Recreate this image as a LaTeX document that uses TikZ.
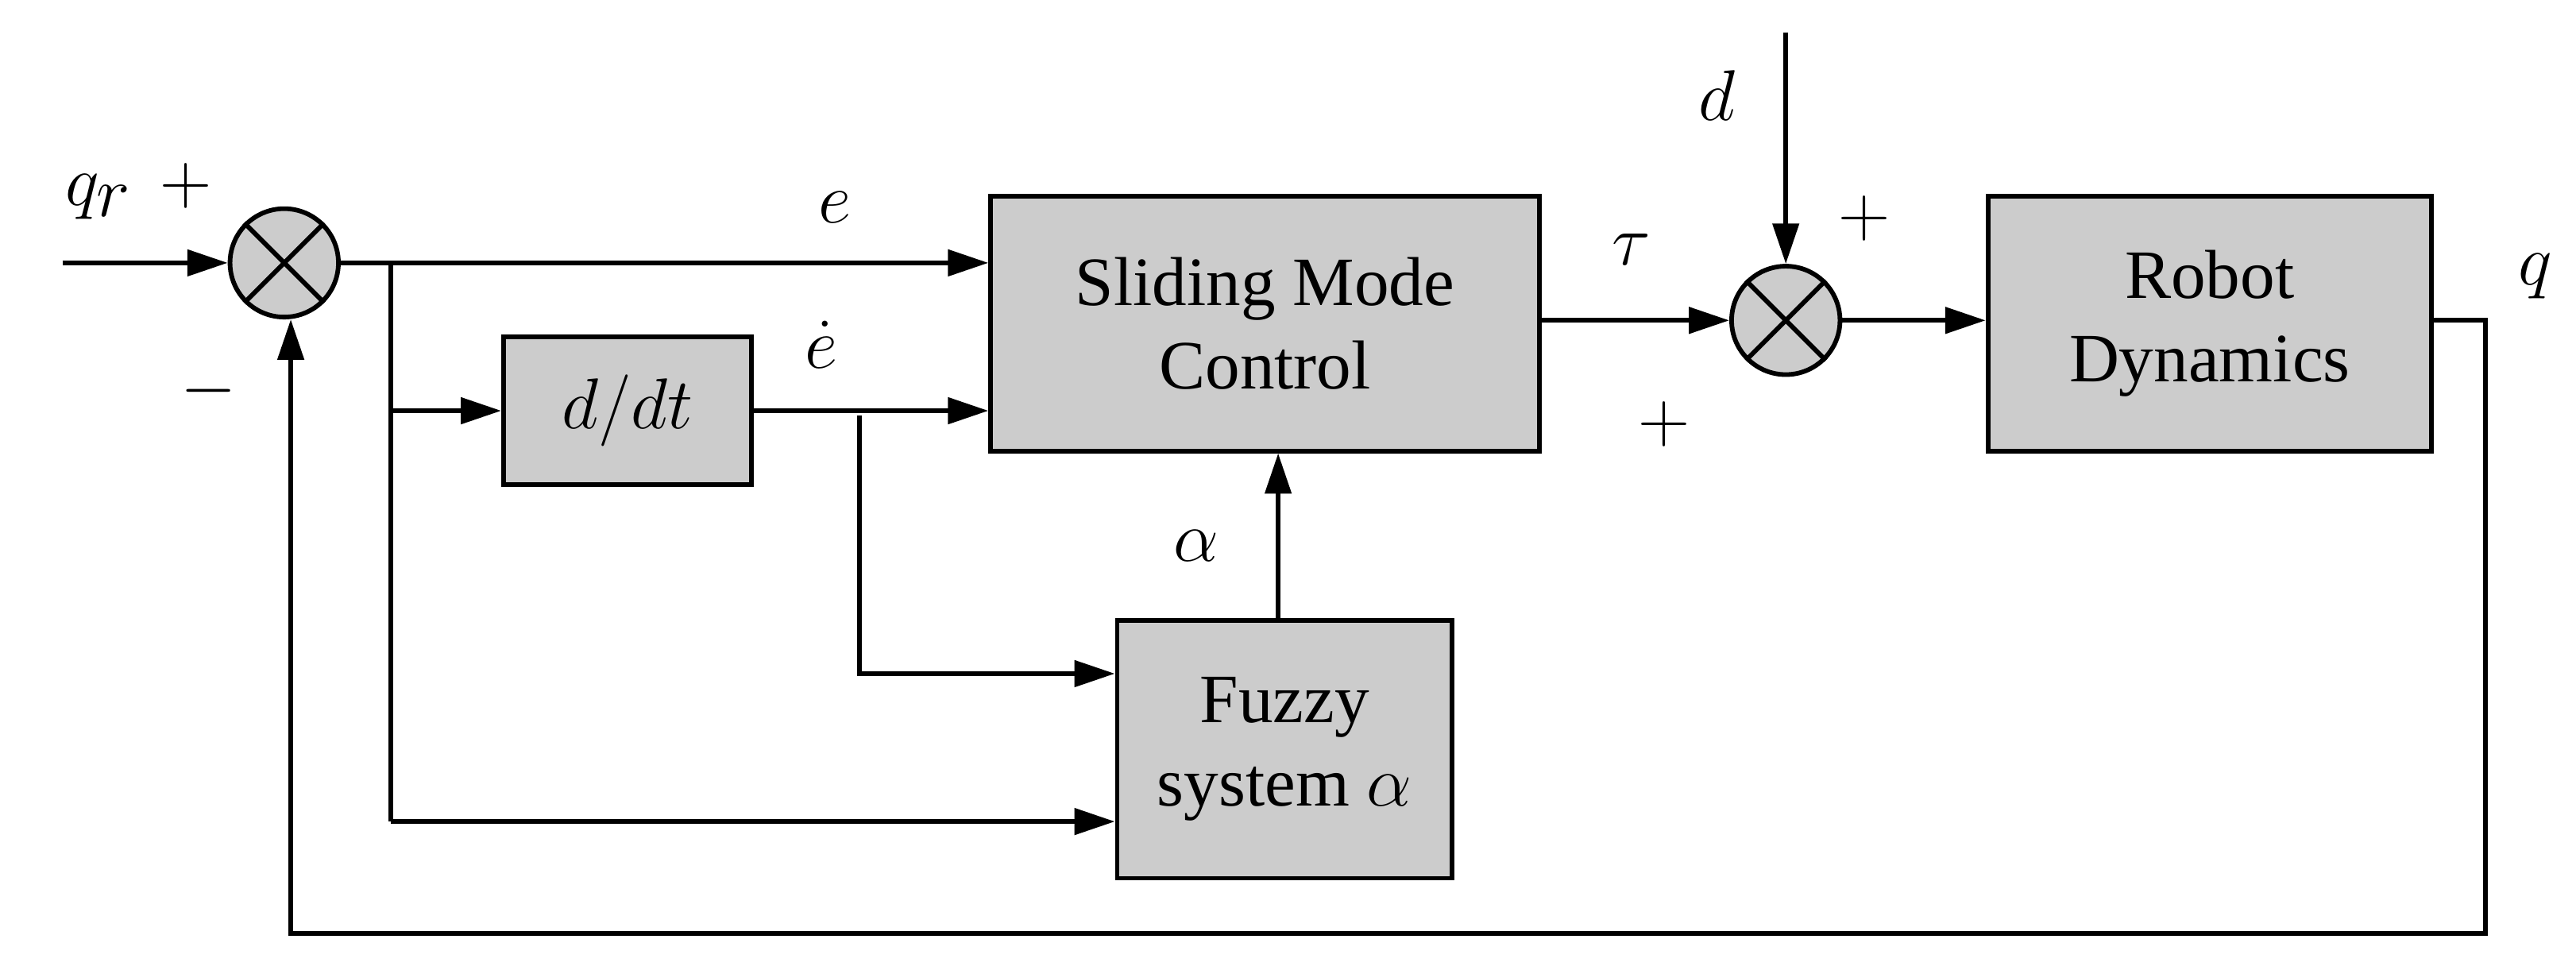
\documentclass[tikz,border=0pt]{standalone}
\usepackage{fontspec}
\setmainfont{Liberation Serif}
\usetikzlibrary{arrows.meta}
\begin{document}
\begin{tikzpicture}[x=0.02cm,y=-0.02cm,
 blk/.style={draw,line width=1.6pt,fill=black!20,inner sep=0pt},
 sumc/.style={draw,line width=1.6pt,fill=black!20,circle,minimum size=1.32cm,inner sep=0pt},
 ar/.style={line width=1.6pt,-{Triangle[length=14pt,width=9pt]}},
 ln/.style={line width=1.6pt},
 lbl/.style={font=\fontsize{38}{42}\selectfont},
 txt/.style={font=\fontsize{24}{29}\selectfont,align=center}]
\useasboundingbox (0,0) rectangle (1568,590);
% summing junctions
\node[sumc] (s1) at (173,160) {};
\draw[ln] (s1.45) -- (s1.225) (s1.135) -- (s1.315);
\node[sumc] (s2) at (1087,195) {};
\draw[ln] (s2.45) -- (s2.225) (s2.135) -- (s2.315);
% blocks
\node[blk,minimum width=3.02cm,minimum height=1.8cm] (ddt) at (382,250) {};
\node[txt] at (ddt) {$d/dt$};
\node[blk,minimum width=6.68cm,minimum height=3.1cm,txt] (smc) at (770,197) {Sliding Mode\\Control};
\node[blk,minimum width=5.4cm,minimum height=3.1cm,txt] (rob) at (1345,197) {Robot\\Dynamics};
\node[blk,minimum width=4.08cm,minimum height=3.14cm,txt] (fz) at (782,456) {Fuzzy\\system $\alpha$};
% coordinates
\coordinate (in) at (38,160);
\coordinate (b1) at (238,160);
\coordinate (b2) at (523,253);
\coordinate (dtop) at (1087,20);
\coordinate (qo) at (1513,195);
% connectors
\draw[ar] (in) -- (s1);
\draw[ar] (s1.east) -- (smc.west |- s1.east);
\draw[ar] (b1 |- ddt.west) -- (ddt.west);
\draw[ln] (b1) -- (238,500);
\draw[ar] (238,500) -- (fz.west |- 0,500);
\draw[ar] (ddt.east) -- (smc.west |- ddt.east);
\draw[ar] (b2) -- (523,410) -- (fz.west |- 0,410);
\draw[ar] (fz.north -| 778,0) -- (smc.south -| 778,0);
\draw[ar] (smc.east |- s2) -- (s2.west);
\draw[ar] (dtop) -- (s2.north);
\draw[ar] (s2.east) -- (rob.west |- s2);
\draw[ar] (rob.east |- qo) -- (qo) -- (1513,568) -- (177,568) -- (s1.south -| 177,0);
% labels
\node[lbl] at (60,120) {$q_r$};
\node[lbl] at (113,113) {$+$};
\node[lbl] at (127,238) {$-$};
\node[lbl] at (508,126) {$e$};
\node[lbl] at (500,210) {$\dot e$};
\node[lbl] at (728,332) {$\alpha$};
\node[lbl] at (993,152) {$\tau$};
\node[lbl] at (1013,258) {$+$};
\node[lbl] at (1135,133) {$+$};
\node[lbl] at (1045,58) {$d$};
\node[lbl] at (1543,168) {$q$};
\end{tikzpicture}
\end{document}
